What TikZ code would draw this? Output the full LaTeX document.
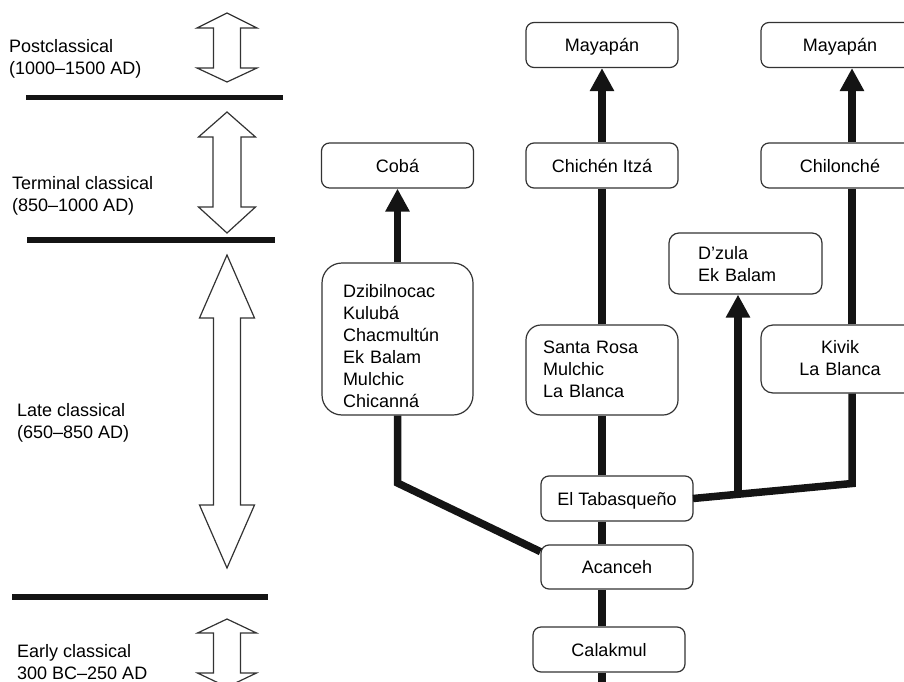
\documentclass[tikz,border=0pt]{standalone}
\usepackage{fontspec}
\setmainfont{Liberation Sans}
\usetikzlibrary{arrows.meta,calc}
\newcommand\lblfont{\fontsize{18}{22}\selectfont}
% double-headed outline arrow: x, ytop, yshoulder1, yshoulder2, ybottom, head half-width, shaft half-width
\newcommand\dblarr[7]{%
  \draw[dblarrow] (#1,#2) -- ({#1+#6},#3) -- ({#1+#7},#3) -- ({#1+#7},#4) -- ({#1+#6},#4)
    -- (#1,#5) -- ({#1-#6},#4) -- ({#1-#7},#4) -- ({#1-#7},#3) -- ({#1-#6},#3) -- cycle;}
\begin{document}
\begin{tikzpicture}[x=1pt,y=-1pt,
  box/.style={draw=black!80, line width=1.2pt, rounded corners=8pt, fill=white,
    minimum width=152pt, minimum height=45pt, inner sep=0pt, font=\lblfont,
    text height=13pt, text depth=0pt},
  conn/.style={line width=7.5pt, draw=black!92},
  arr/.style={conn, -{Triangle[length=23pt,width=23pt]}},
  level/.style={line width=5.5pt, draw=black!92},
  dblarrow/.style={draw=black!80, line width=1.2pt, fill=white},
  period/.style={anchor=base west, align=left, inner sep=0pt, font=\lblfont}]
\useasboundingbox (0,0) rectangle (904,682);
\clip (0,0) rectangle (904,682);

% ---- period scale on the left (base = last line) ----
\node[period] (post)  at (9,75)   {Postclassical\\(1000–1500 AD)};
\node[period] (term)  at (12,211) {Terminal classical\\(850–1000 AD)};
\node[period] (late)  at (17,438) {Late classical\\(650–850 AD)};
\node[period] (early) at (17,679) {Early classical\\300 BC–250 AD};

\draw[level] (26,97.5) -- (283,97.5);
\draw[level] (27,240) -- (275,240);
\draw[level] (12,597) -- (268,597);

\dblarr{227}{13}{28}{68}{82}{30}{13.5}
\dblarr{227}{112}{137}{207}{233}{28.5}{14}
\dblarr{227}{255}{318}{505}{568}{27.5}{13.5}
\dblarr{227}{619}{633}{673}{687}{29.5}{13.5}

% ---- sites ----
\node[box] (may1) at (602,45)    {Mayapán};
\node[box] (chi)  at (602,165.5) {Chichén Itzá};
\node[box] (coba) at (397.5,165.5) {Cobá};
\node[box, minimum width=158pt] (may2) at (840,45)    {Mayapán};
\node[box, minimum width=158pt] (chil) at (840,165.5) {Chilonché};

\node[box, minimum width=151pt, minimum height=152pt, rounded corners=20pt,
      text width=109pt, align=left, text depth=97pt] (dz) at (397.5,339)
      {Dzibilnocac\\Kulubá\\Chacmultún\\Ek Balam\\Mulchic\\Chicanná};
\node[box, minimum height=90pt, rounded corners=15pt,
      text width=118pt, align=left, text depth=47pt] (sr) at (602,370)
      {Santa Rosa\\Mulchic\\La Blanca};
\node[box, minimum width=153pt, minimum height=61pt, rounded corners=10pt,
      text width=95pt, align=left, text depth=22pt] (dzula) at (745.5,263.5)
      {D’zula\\Ek Balam};
\node[box, minimum width=158pt, minimum height=68pt, rounded corners=12pt,
      text width=120pt, align=center, text depth=25pt] (kivik) at (840,359)
      {Kivik\\La Blanca};

\node[box] (tab)  at (617,498.5) {El Tabasqueño};
\node[box, minimum height=44pt] (acan) at (617,567) {Acanceh};
\node[box] (cala) at (609,649.5) {Calakmul};

% ---- connector guides ----
\coordinate (cx) at (602,0);
\coordinate (rx) at (852,0);
\coordinate (jL) at (397.5,483);
\coordinate (jR) at (852,483.5);
\coordinate (bot) at (602,690);
\coordinate (tabE) at (693,498.5);
\coordinate (acW) at ($(acan.north west)!0.16!(acan.south west)$);
\coordinate (jD) at ($(tabE)!0.283!(jR)$);

% ---- connectors ----
\draw[arr] (dz.north) -- (coba.south);
\draw[arr] (chi.north) -- (may1.south);
\draw[arr] (chil.north -| rx) -- (may2.south -| rx);
\draw[conn] (sr.north -| cx) -- (chi.south -| cx);
\draw[conn] (kivik.north -| rx) -- (chil.south -| rx);
\draw[conn] (tab.north -| cx) -- (sr.south -| cx);
\draw[conn] (acan.north -| cx) -- (tab.south -| cx);
\draw[conn] (cala.north -| cx) -- (acan.south -| cx);
\draw[conn] (cala.south -| cx) -- (bot);
\draw[conn] (dz.south) -- (jL) -- (acW);
\draw[conn] (tabE) -- (jR) -- (kivik.south -| rx);
\draw[arr] (jD) -- (jD |- dzula.south);
\end{tikzpicture}
\end{document}
